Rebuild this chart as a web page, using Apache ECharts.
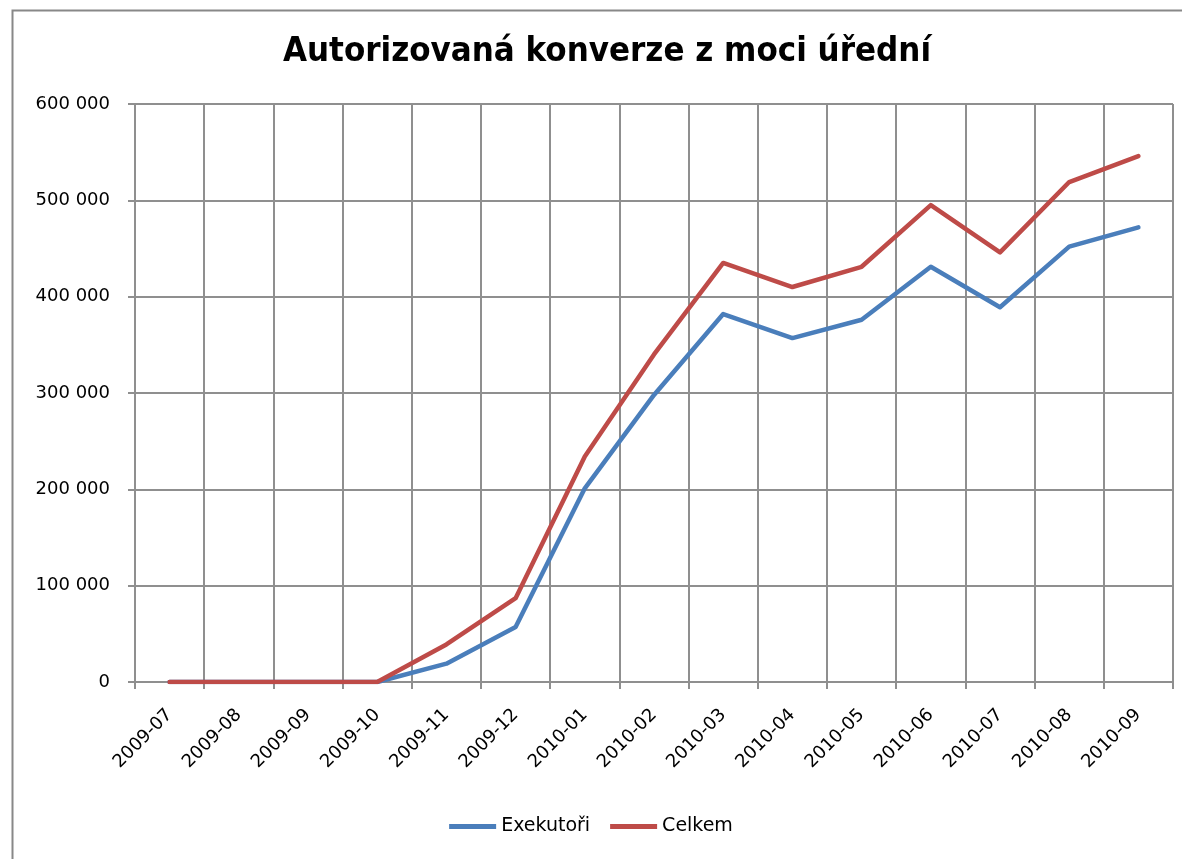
<!DOCTYPE html>
<html lang="cs">
<head>
    <meta charset="UTF-8">
    <title>Autorizovaná konverze z moci úřední</title>
    <script src="https://cdn.jsdelivr.net/npm/echarts@6.0.0/dist/echarts.min.js"></script>
    <style>
        html, body { margin: 0; padding: 0; background: #fff; }
        #main { width: 1182px; height: 859px; }
    </style>
</head>
<body>
    <div id="main"></div>
    <script>
        // mesice na ose x
        var months = ['2009-07', '2009-08', '2009-09', '2009-10', '2009-11', '2009-12', '2010-01',
            '2010-02', '2010-03', '2010-04', '2010-05', '2010-06', '2010-07', '2010-08', '2010-09'];
        var exekutori = [0, 0, 0, 0, 19000, 57000, 201000, 298000, 382000, 357000, 376000, 431000, 389000, 452000, 472000];
        var celkem = [0, 0, 0, 0, 39000, 87000, 234000, 340000, 435000, 410000, 431000, 495000, 446000, 519000, 546000];
        var yTicks = [0, 100000, 200000, 300000, 400000, 500000, 600000];

        var gridColor = '#8f8f8f';
        var labelFont = 'DejaVu Sans';

        var myChart = echarts.init(document.getElementById('main'));
        var option = {
            animation: false,
            backgroundColor: '#fff',
            title: {
                text: 'Autorizovaná konverze z moci úřední',
                left: 602,
                top: 30,
                textAlign: 'center',
                textStyle: {
                    fontFamily: 'DejaVu Sans Condensed',
                    fontWeight: 'bold',
                    fontSize: 34.5,
                    color: '#000'
                }
            },
            graphic: [{
                type: 'rect',
                left: 10,
                top: 8,
                shape: { width: 1400, height: 1000 },
                style: { fill: 'none', stroke: '#888', lineWidth: 2 },
                silent: true
            }],
            legend: {
                bottom: 18,
                left: 'center',
                icon: 'rect',
                itemWidth: 47,
                itemHeight: 5,
                itemGap: 20,
                data: ['Exekutoři', 'Celkem'],
                textStyle: { fontFamily: labelFont, fontSize: 19, color: '#000' }
            },
            grid: {
                left: 135,
                right: 9,
                top: 104,
                bottom: 177
            },
            xAxis: {
                type: 'category',
                data: months,
                boundaryGap: true,
                axisLine: { lineStyle: { color: gridColor, width: 2 } },
                axisTick: { show: true, length: 7, lineStyle: { color: gridColor, width: 2 } },
                splitLine: { show: true, lineStyle: { color: gridColor, width: 2 } },
                axisLabel: {
                    rotate: 45,
                    margin: 30,
                    interval: 0,
                    fontFamily: labelFont,
                    fontSize: 18,
                    color: '#000'
                }
            },
            yAxis: {
                type: 'value',
                min: yTicks[0],
                max: yTicks[yTicks.length - 1],
                interval: 100000,
                axisLine: { show: true, lineStyle: { color: gridColor, width: 2 } },
                axisTick: { show: true, length: 7, lineStyle: { color: gridColor, width: 2 } },
                splitLine: { show: true, lineStyle: { color: gridColor, width: 2 } },
                axisLabel: {
                    margin: 25,
                    fontFamily: labelFont,
                    fontSize: 18,
                    color: '#000',
                    formatter: function (v) {
                        return v === 0 ? '0' : String(v).replace(/\B(?=(\d{3})+(?!\d))/g, ' ');
                    }
                }
            },
            series: [{
                name: 'Exekutoři',
                type: 'line',
                data: exekutori,
                symbol: 'none',
                color: '#4a7ebb',
                lineStyle: { width: 4.5, color: '#4a7ebb', join: 'round', cap: 'round' }
            }, {
                name: 'Celkem',
                type: 'line',
                data: celkem,
                symbol: 'none',
                color: '#be4b48',
                lineStyle: { width: 4.5, color: '#be4b48', join: 'round', cap: 'round' }
            }]
        };
        myChart.setOption(option);
    </script>
</body>
</html>
